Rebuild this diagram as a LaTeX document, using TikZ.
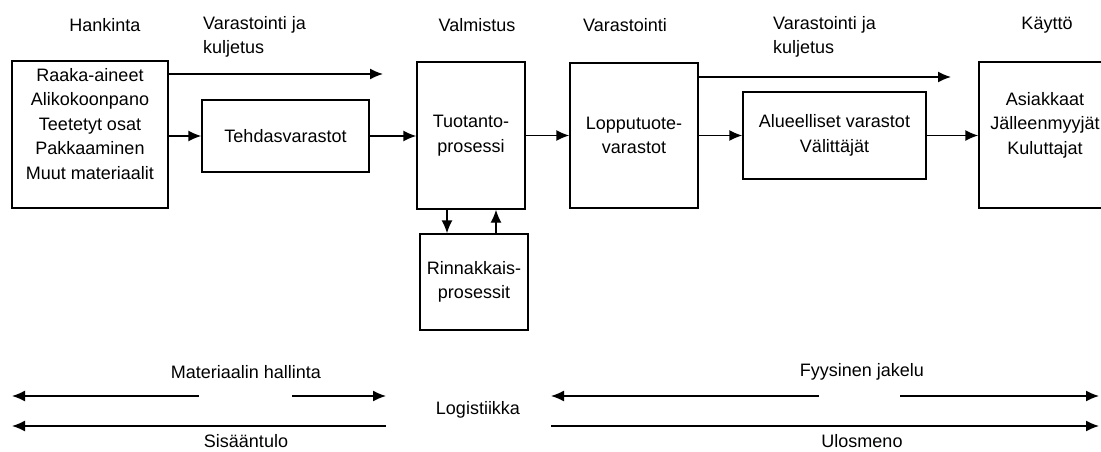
\documentclass[tikz,border=0pt]{standalone}
\usepackage{fontspec}
\setmainfont{Liberation Sans}
\usetikzlibrary{arrows.meta}
\begin{document}
\begin{tikzpicture}[x=1pt,y=-1pt,
  every node/.style={font=\fontsize{18}{24.5}\selectfont, inner sep=0pt},
  box/.style={draw, line width=1.4pt},
  txt/.style={align=center},
  arr/.style={line width=1.4pt, -{Latex[length=13pt,width=11pt]}}]
\clip (0,0) rectangle (1101,452);
\fill[white] (0,0) rectangle (1101,452);

% stage headings
\node (hHan) at (105,25) {Hankinta};
\node[anchor=west, align=left] (hVk1) at (203,37) {Varastointi ja\\kuljetus};
\node (hVal) at (477,25) {Valmistus};
\node (hVar) at (625,25) {Varastointi};
\node[anchor=west, align=left] (hVk2) at (773,37) {Varastointi ja\\kuljetus};
\node (hKay) at (1047,25) {Käyttö};

% boxes
\node[box, minimum width=156, minimum height=147] (mat) at (90,134.5) {};
\node[txt] (matT) at (90,124) {Raaka-aineet\\Alikokoonpano\\Teetetyt osat\\Pakkaaminen\\Muut materiaalit};
\node[box, minimum width=167, minimum height=72, txt] (teh) at (285.5,136) {Tehdasvarastot};
\node[box, minimum width=108, minimum height=147, txt] (tuot) at (471,135.5) {Tuotanto-\\prosessi};
\node[box, minimum width=108, minimum height=96, txt] (rin) at (474,282) {Rinnakkais-\\prosessit};
\node[box, minimum width=128, minimum height=145, txt] (lop) at (634,135.5) {Lopputuote-\\varastot};
\node[box, minimum width=183, minimum height=87, txt] (alu) at (834.5,135.5) {Alueelliset varastot\\Välittäjät};
\node[box, minimum width=150, minimum height=146] (kay) at (1054,135) {};
\node[txt] (kayT) at (1045,125) {Asiakkaat\\Jälleenmyyjät\\Kuluttajat};

% flow connectors
\coordinate (t1) at (383,74);
\coordinate (t2) at (951,77);
\draw[arr] (mat.east |- t1) -- (t1);
\draw[arr] (mat.east |- teh.west) -- (teh.west);
\draw[arr] (teh.east) -- (tuot.west |- teh.east);
\draw[arr] (tuot.east) -- (lop.west);
\draw[arr] (lop.east |- t2) -- (t2);
\draw[arr] (lop.east) -- (alu.west);
\draw[arr] (alu.east) -- (kay.west |- alu.east);
\draw[arr] ([xshift=-24]tuot.south) -- ([xshift=-24]tuot.south |- rin.north);
\draw[arr] ([xshift=25]tuot.south |- rin.north) -- ([xshift=25]tuot.south);

% span arrows
\coordinate (mL) at (12,396);
\coordinate (mA) at (199,396);
\coordinate (mB) at (292,396);
\coordinate (mR) at (386,396);
\coordinate (sL) at (12,426);
\coordinate (sR) at (386,426);
\coordinate (fL) at (551,396);
\coordinate (fA) at (819,396);
\coordinate (fB) at (900,396);
\coordinate (fR) at (1099,396);
\coordinate (uL) at (551,426);
\coordinate (uR) at (1099,426);
\draw[arr] (mA) -- (mL);
\draw[arr] (mB) -- (mR);
\draw[arr] (sR) -- (sL);
\draw[arr] (fA) -- (fL);
\draw[arr] (fB) -- (fR);
\draw[arr] (uL) -- (uR);

\node (lMat) at (246,372) {Materiaalin hallinta};
\node (lLog) at (478,410) {Logistiikka};
\node (lSis) at (246,441) {Sisääntulo};
\node (lFyy) at (862,372) {Fyysinen jakelu};
\node (lUlo) at (862,441) {Ulosmeno};
\end{tikzpicture}
\end{document}
